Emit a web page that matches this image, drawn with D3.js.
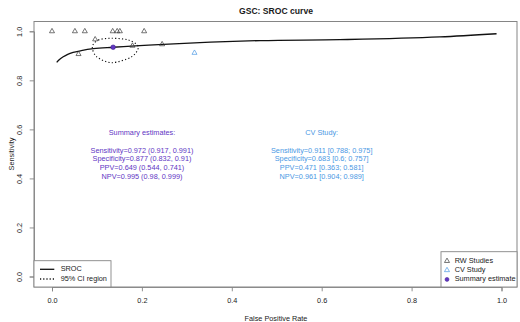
<!DOCTYPE html>
<html><head><meta charset="utf-8">
<script src="https://cdn.jsdelivr.net/npm/d3@7/dist/d3.min.js"></script>
<style>body{margin:0;background:#fff}svg{display:block;font-family:"Liberation Sans",Arial,sans-serif}</style>
</head><body>
<svg id="c" width="520" height="322"></svg>
<script>
// ---- data ----
const xTicks = [0, 0.2, 0.4, 0.6, 0.8, 1.0];
const yTicks = [0, 0.2, 0.4, 0.6, 0.8, 1.0];
const rwFpr  = [0.000, 0.051, 0.073, 0.135, 0.145, 0.151, 0.205, 0.096, 0.059, 0.179, 0.245];
const rwSens = [1.000, 1.000, 1.000, 1.000, 1.000, 1.000, 1.000, 0.967, 0.907, 0.941, 0.947];
const cvFpr  = [0.317];
const cvSens = [0.912];
const sumFpr = [0.136];
const sumSens = [0.935];
const srocFpr  = [0.0104, 0.016, 0.025, 0.035, 0.047, 0.065, 0.092, 0.136, 0.248, 0.463, 0.640, 0.863, 0.989];
const srocSens = [0.873, 0.884, 0.896, 0.906, 0.914, 0.921, 0.929, 0.935, 0.947, 0.962, 0.966, 0.977, 0.990];
const ciFpr  = [0.0897, 0.103, 0.133, 0.170, 0.192, 0.177, 0.133, 0.0995];
const ciSens = [0.937, 0.9645, 0.9715, 0.9645, 0.937, 0.896, 0.872, 0.896];
const summaryText = ["Summary estimates:", "", "Sensitivity=0.972 (0.917, 0.991)", "Specificity=0.877 (0.832, 0.91)", "PPV=0.649 (0.544, 0.741)", "NPV=0.995 (0.98, 0.999)"];
const cvText = ["CV Study:", "", "Sensitivity=0.911 [0.788; 0.975]", "Specificity=0.683 [0.6; 0.757]", "PPV=0.471 [0.363; 0.581]", "NPV=0.961 [0.904; 0.989]"];
const legendLines = ["SROC", "95% CI region"];
const legendPoints = ["RW Studies", "CV Study", "Summary estimate"];

// ---- drawing ----
const svg = d3.select("#c");
const x = d3.scaleLinear().domain([0, 1]).range([52, 501.5]);
const y = d3.scaleLinear().domain([0, 1]).range([276.5, 31.3]);
const box = {l: 34, r: 517, t: 21.5, b: 287};
const frame = "#858585", txt = "#1a1a1a", purple = "#6236c4", blue = "#4a98e4";
const fs = 7.3;

svg.append("text").attr("x", 276).attr("y", 14).attr("text-anchor", "middle")
  .attr("font-weight", "bold").attr("font-size", 8.6).attr("fill", txt).text("GSC: SROC curve");

// axes
const xa = svg.append("g").attr("transform", `translate(0,${box.b})`)
  .call(d3.axisBottom(x).tickValues(xTicks).tickFormat(d3.format(".1f")).tickSize(4.3).tickPadding(6));
const ya = svg.append("g").attr("transform", `translate(${box.l},0)`)
  .call(d3.axisLeft(y).tickValues(yTicks).tickFormat(d3.format(".1f")).tickSize(4.3).tickPadding(3));
[xa, ya].forEach(a => {
  a.selectAll("path,line").attr("stroke", frame).attr("stroke-width", 0.9);
  a.selectAll("text").attr("font-size", fs).attr("fill", txt).attr("font-family", "Liberation Sans, Arial, sans-serif");
});
ya.selectAll(".tick text").attr("text-anchor", "middle").attr("dy", null).attr("dominant-baseline", "middle")
  .attr("transform", "rotate(-90)").attr("x", 0).attr("y", 0)
  .each(function(){ const t = d3.select(this.parentNode); });
ya.selectAll(".tick").each(function(d){
  d3.select(this).select("text").attr("transform", `translate(-13.5,0) rotate(-90)`);
});
xa.selectAll(".tick text").attr("dy", null).attr("y", 14).attr("dominant-baseline", "middle");

svg.append("rect").attr("x", box.l).attr("y", box.t).attr("width", box.r - box.l).attr("height", box.b - box.t)
  .attr("fill", "none").attr("stroke", frame).attr("stroke-width", 1);

svg.append("text").attr("x", 276).attr("y", 319.5).attr("text-anchor", "middle").attr("dominant-baseline", "middle")
  .attr("font-size", fs).attr("fill", txt).text("False Positive Rate");
svg.append("text").attr("transform", "translate(12,154) rotate(-90)").attr("text-anchor", "middle")
  .attr("dominant-baseline", "middle").attr("font-size", fs).attr("fill", txt).text("Sensitivity");

// SROC curve
const sroc = srocFpr.map((f, i) => [f, srocSens[i]]);
svg.append("path").datum(sroc).attr("fill", "none").attr("stroke", "#111").attr("stroke-width", 1.3)
  .attr("d", d3.line().x(d => x(d[0])).y(d => y(d[1])).curve(d3.curveMonotoneX));

// CI region
const ci = ciFpr.map((f, i) => [f, ciSens[i]]);
svg.append("path").datum(ci).attr("fill", "none").attr("stroke", "#111").attr("stroke-width", 1.1)
  .attr("stroke-dasharray", "1.2,2.2")
  .attr("d", d3.line().x(d => x(d[0])).y(d => y(d[1])).curve(d3.curveCardinalClosed.tension(0.1)));

// points
const tri = d3.symbol().type(d3.symbolTriangle).size(11);
svg.append("g").selectAll("path").data(rwFpr.map((f, i) => [f, rwSens[i]])).join("path")
  .attr("transform", d => `translate(${x(d[0])},${y(d[1])})`).attr("d", tri)
  .attr("fill", "none").attr("stroke", "#3a3a3a").attr("stroke-width", 0.7);
svg.append("g").selectAll("path").data(cvFpr.map((f, i) => [f, cvSens[i]])).join("path")
  .attr("transform", d => `translate(${x(d[0])},${y(d[1])})`).attr("d", tri)
  .attr("fill", "none").attr("stroke", blue).attr("stroke-width", 0.7);
svg.append("g").selectAll("circle").data(sumFpr.map((f, i) => [f, sumSens[i]])).join("circle")
  .attr("cx", d => x(d[0])).attr("cy", d => y(d[1])).attr("r", 2.3)
  .attr("fill", purple).attr("stroke", "#3b1c8c").attr("stroke-width", 0.6);

// text blocks
function block(lines, cx, color) {
  const ys = [133, 142, 150.7, 159.4, 168.1, 176.8];
  svg.append("g").selectAll("text").data(lines).join("text")
    .attr("x", cx).attr("y", (d, i) => ys[i]).attr("text-anchor", "middle").attr("dominant-baseline", "middle")
    .attr("font-size", fs).attr("fill", color).text(d => d);
}
block(summaryText, 142, purple);
block(cvText, 321.7, blue);

// legend left
svg.append("rect").attr("x", box.l).attr("y", 260.7).attr("width", 111 - box.l).attr("height", box.b - 260.7)
  .attr("fill", "#fff").attr("stroke", frame).attr("stroke-width", 0.9);
const lgL = svg.append("g").selectAll("g").data(legendLines).join("g")
  .attr("transform", (d, i) => `translate(0,${269.3 + i * 9.7})`);
lgL.append("line").attr("x1", 40).attr("x2", 54.3).attr("stroke", "#111").attr("stroke-width", 1.3)
  .attr("stroke-dasharray", (d, i) => i ? "1.2,2" : null);
lgL.append("text").attr("x", 60.7).attr("dominant-baseline", "middle").attr("font-size", fs).attr("fill", txt).text(d => d);

// legend right
svg.append("rect").attr("x", 441).attr("y", 251.7).attr("width", box.r - 441).attr("height", box.b - 251.7)
  .attr("fill", "#fff").attr("stroke", frame).attr("stroke-width", 0.9);
const lgR = svg.append("g").selectAll("g").data(legendPoints).join("g")
  .attr("transform", (d, i) => `translate(0,${261 + i * 9.2})`);
lgR.each(function(d, i) {
  const g = d3.select(this);
  if (i < 2) g.append("path").attr("transform", "translate(447,0)").attr("d", tri).attr("fill", "none")
    .attr("stroke", i ? blue : "#3a3a3a").attr("stroke-width", 0.7);
  else g.append("circle").attr("cx", 447).attr("r", 2).attr("fill", purple).attr("stroke", "#3b1c8c").attr("stroke-width", 0.5);
});
lgR.append("text").attr("x", 454.7).attr("dominant-baseline", "middle").attr("font-size", fs).attr("fill", txt).text(d => d);
</script>
</body></html>
